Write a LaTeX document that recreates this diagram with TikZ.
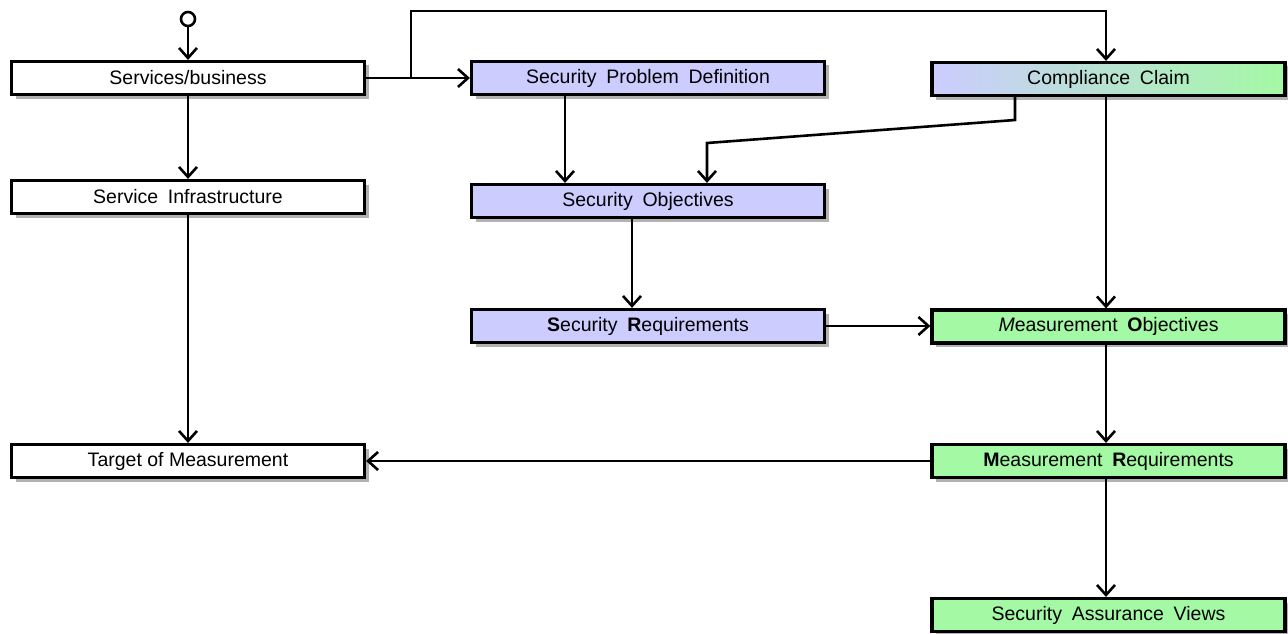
\documentclass[tikz,border=0pt]{standalone}
\usepackage{fontspec}
\setmainfont{Liberation Sans}
\usetikzlibrary{arrows.meta,shadows,calc}
\definecolor{lav}{RGB}{204,204,255}
\definecolor{lgreen}{RGB}{164,249,164}
\newcommand{\ws}{\hspace{0.5em}}
\tikzset{
  x=1pt,y=1pt,
  shd/.style={drop shadow={shadow xshift=4pt, shadow yshift=-4pt, fill=black, opacity=0.3}},
  box/.style={draw=black, line width=3.2pt, minimum width=353pt, minimum height=33pt, inner sep=0pt,
    font=\fontsize{19.5}{22}\selectfont, shd},
  wbox/.style={box, fill=white},
  lbox/.style={box, fill=lav},
  gbox/.style={box, fill=lgreen},
  arr/.style={line width=2.6pt, -{Straight Barb[length=10pt,width=18pt,line width=2.6pt]}},
}
\begin{document}
\begin{tikzpicture}
\useasboundingbox (0,0) rectangle (1288,-634);
\node[circle, draw, line width=2.6pt, minimum size=14pt, inner sep=0pt] (start) at (188,-19) {};
\node[wbox] (sb) at (188,-78) {Services/business};
\node[wbox] (si) at (188,-197) {Service\ws Infrastructure};
\node[wbox] (tm) at (188,-461) {Target of Measurement};
\node[lbox] (spd) at (648,-78) {Security\ws Problem\ws Definition};
\node[lbox] (so) at (648,-201) {Security\ws Objectives};
\node[lbox] (sr) at (648,-326) {\textbf{S}ecurity\ws \textbf{R}equirements};
\node[box, left color=lav, right color=lgreen] (cc) at (1108.5,-79) {Compliance\ws Claim};
\node[gbox] (mo) at (1108.5,-326.5) {\textit{M}easurement\ws \textbf{O}bjectives};
\node[gbox] (mr) at (1108.5,-461) {\textbf{M}easurement\ws \textbf{R}equirements};
\node[gbox] (sav) at (1108.5,-615) {Security\ws Assurance\ws Views};
\coordinate (br) at (411,-78);
\coordinate (top) at (1106,-11);
\coordinate (c1) at (1015,-120);
\coordinate (c2) at (707,-143);
\coordinate (v1) at (1106,0);
\coordinate (v2) at (632,0);
\coordinate (v3) at (565,0);
\draw[arr] (start) -- (sb);
\draw[arr] (sb) -- (spd);
\draw[arr] (br) |- (top) -- (top |- cc.north);
\draw[arr] (sb) -- (si);
\draw[arr] (si) -- (tm);
\draw[arr] (spd.south -| v3) -- (so.north -| v3);
\draw[arr] (c1 |- cc.south) -- (c1) -- (c2) -- (c2 |- so.north);
\draw[arr] (cc.south -| v1) -- (mo.north -| v1);
\draw[arr] (so.south -| v2) -- (sr.north -| v2);
\draw[arr] (sr.east) -- (mo.west |- sr.east);
\draw[arr] (mo.south -| v1) -- (mr.north -| v1);
\draw[arr] (mr.west) -- (tm.east |- mr.west);
\draw[arr] (mr.south -| v1) -- (sav.north -| v1);
\end{tikzpicture}
\end{document}
